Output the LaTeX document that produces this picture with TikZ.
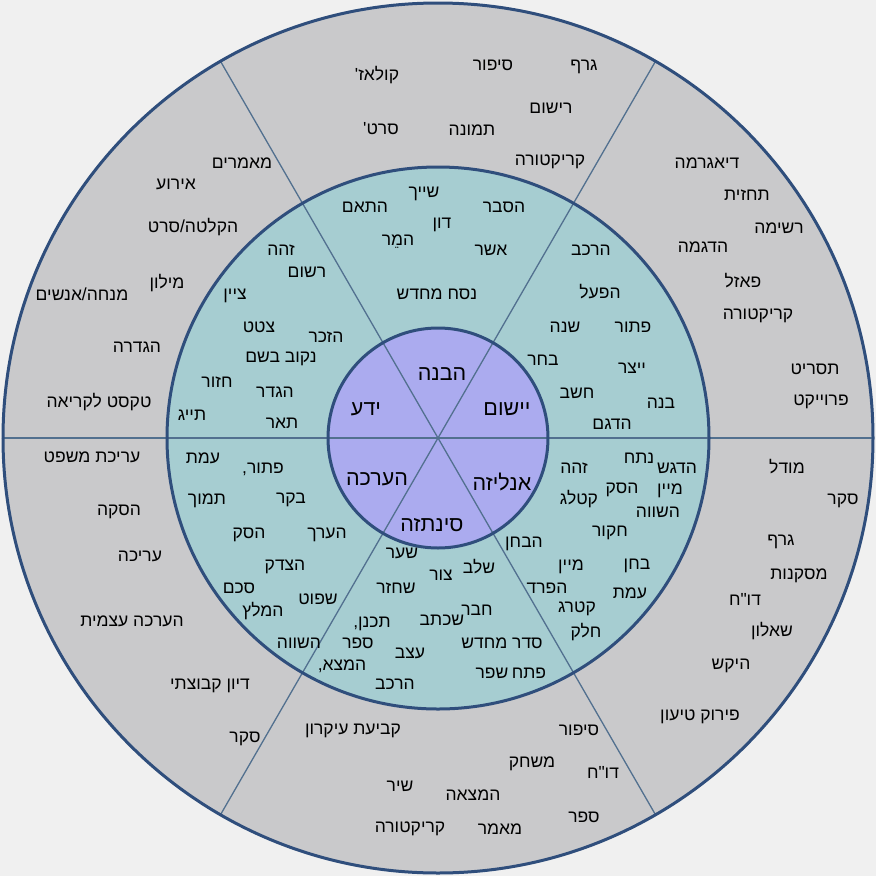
\documentclass[tikz,border=0pt]{standalone}
\usepackage{fontspec}
\newfontfamily\hebfont[Script=Hebrew]{Liberation Sans}
\TeXXeTstate=1
\definecolor{bgc}{HTML}{F0F0F0}
\definecolor{outerc}{HTML}{C9C9CB}
\definecolor{midc}{HTML}{A6CDD1}
\definecolor{innerc}{HTML}{ABABEF}
\definecolor{rimc}{HTML}{2F4E7C}
\definecolor{divc}{HTML}{52708F}
\begin{document}
\begin{tikzpicture}[x=1pt,y=-1pt,
  lbl/.style={font=\hebfont\fontsize{17.5}{20}\selectfont, inner sep=0pt,
    execute at begin node=\beginR, execute at end node=\endR},
  core/.style={lbl, font=\hebfont\fontsize{21.5}{24}\selectfont},
  rim/.style={draw=rimc, line width=3pt},
  divline/.style={draw=divc, line width=1.3pt}]
\useasboundingbox (0,0) rectangle (876,876);
\fill[bgc] (0,0) rectangle (876,876);
\coordinate (c) at (438,438);
\fill[outerc] (c) circle[radius=436pt];
\fill[midc] (c) circle[radius=271pt];
\fill[innerc] (c) circle[radius=110pt];
\foreach \a in {0,60,...,300} \draw[divline] (c) -- ++(\a:436pt);
\draw[rim] (c) circle[radius=435pt];
\draw[rim] (c) circle[radius=271pt];
\draw[rim] (c) circle[radius=110pt];

% core
\node[core] (k1) at (442,374) {הבנה};
\node[core] (k2) at (366,409) {ידע};
\node[core] (k3) at (507,409) {יישום};
\node[core] (k4) at (377,479) {הערכה};
\node[core] (k5) at (502,482) {אנליזה};
\node[core] (k6) at (432,525) {סינתזה};

% outer top
\node[lbl] (t1) at (584,67) {גרף};
\node[lbl] (t2) at (493,65) {סיפור};
\node[lbl] (t3) at (377,75) {קולאז'};
\node[lbl] (t4) at (551,108) {רישום};
\node[lbl] (t5) at (472,130) {תמונה};
\node[lbl] (t6) at (381,129) {סרט'};
\node[lbl] (t7) at (550,162) {קריקטורה};

% outer upper left
\node[lbl] (ul1) at (242,163) {מאמרים};
\node[lbl] (ul2) at (176,184) {אירוע};
\node[lbl] (ul3) at (193,227) {הקלטה/סרט};
\node[lbl] (ul4) at (167,283) {מילון};
\node[lbl] (ul5) at (82,294) {מנחה/אנשים};
\node[lbl] (ul6) at (137,347) {הגדרה};
\node[lbl] (ul7) at (99,402) {טקסט לקריאה};

% outer upper right
\node[lbl] (ur1) at (707,163) {דיאגרמה};
\node[lbl] (ur2) at (747,195) {תחזית};
\node[lbl] (ur3) at (779,228) {רשימה};
\node[lbl] (ur4) at (703,247) {הדגמה};
\node[lbl] (ur5) at (743,281) {פאזל};
\node[lbl] (ur6) at (758,316) {קריקטורה};
\node[lbl] (ur7) at (815,369) {תסריט};
\node[lbl] (ur8) at (821,402) {פרוייקט};

% outer lower left
\node[lbl] (ll1) at (92,457) {עריכת משפט};
\node[lbl] (ll2) at (119,512) {הסקה};
\node[lbl] (ll3) at (140,556) {עריכה};
\node[lbl] (ll4) at (132,621) {הערכה עצמית};
\node[lbl] (ll5) at (210,686) {דיון קבוצתי};
\node[lbl] (ll6) at (245,739) {סקר};

% outer lower right
\node[lbl] (lr1) at (787,467) {מודל};
\node[lbl] (lr2) at (843,501) {סקר};
\node[lbl] (lr3) at (781,542) {גרף};
\node[lbl] (lr4) at (799,576) {מסקנות};
\node[lbl] (lr5) at (745,599) {דו"ח};
\node[lbl] (lr6) at (772,631) {שאלון};
\node[lbl] (lr7) at (731,666) {היקש};
\node[lbl] (lr8) at (700,717) {פירוק טיעון};

% outer bottom
\node[lbl] (b1) at (579,730) {סיפור};
\node[lbl] (b2) at (353,731) {קביעת עיקרון};
\node[lbl] (b3) at (532,764) {משחק};
\node[lbl] (b4) at (603,772) {דו"ח};
\node[lbl] (b5) at (400,786) {שיר};
\node[lbl] (b6) at (473,795) {המצאה};
\node[lbl] (b7) at (584,817) {ספר};
\node[lbl] (b8) at (410,829) {קריקטורה};
\node[lbl] (b9) at (500,829) {מאמר};

% middle top
\node[lbl] (mt1) at (424,194) {שייך};
\node[lbl] (mt2) at (365,207) {התאם};
\node[lbl] (mt3) at (504,207) {הסבר};
\node[lbl] (mt4) at (442,225) {דון};
\node[lbl] (mt5) at (398,242) {המֵר};
\node[lbl] (mt6) at (491,250) {אשר};
\node[lbl] (mt7) at (437,294) {נסח מחדש};

% middle upper right
\node[lbl] (mr1) at (591,250) {הרכב};
\node[lbl] (mr2) at (600,292) {הפעל};
\node[lbl] (mr3) at (565,327) {שנה};
\node[lbl] (mr4) at (633,327) {פתור};
\node[lbl] (mr5) at (543,360) {בחר};
\node[lbl] (mr6) at (632,368) {ייצר};
\node[lbl] (mr7) at (577,393) {חשב};
\node[lbl] (mr8) at (661,403) {בנה};
\node[lbl] (mr9) at (612,424) {הדגם};

% middle upper left
\node[lbl] (ml1) at (281,250) {זהה};
\node[lbl] (ml2) at (307,272) {רשום};
\node[lbl] (ml3) at (235,296) {ציין};
\node[lbl] (ml4) at (259,327) {צטט};
\node[lbl] (ml5) at (326,337) {הזכר};
\node[lbl] (ml6) at (281,359) {נקוב בשם};
\node[lbl] (ml7) at (217,382) {חזור};
\node[lbl] (ml8) at (275,392) {הגדר};
\node[lbl] (ml9) at (192,415) {תייג};
\node[lbl] (ml10) at (282,423) {תאר};

% middle lower right
\node[lbl] (nr1) at (574,468) {זהה};
\node[lbl] (nr2) at (639,458) {נתח};
\node[lbl] (nr3) at (677,468) {הדגש};
\node[lbl] (nr4) at (670,491) {מיין};
\node[lbl] (nr5) at (622,490) {הסק};
\node[lbl] (nr6) at (579,499) {קטלג};
\node[lbl] (nr7) at (658,512) {השווה};
\node[lbl] (nr8) at (610,533) {חקור};
\node[lbl] (nr9) at (524,544) {הבחן};
\node[lbl] (nr10) at (571,567) {מיין};
\node[lbl] (nr11) at (637,566) {בחן};
\node[lbl] (nr12) at (547,588) {הפרד};
\node[lbl] (nr13) at (630,593) {עמת};
\node[lbl] (nr14) at (577,609) {קטרג};
\node[lbl] (nr15) at (586,632) {חלק};

% middle bottom
\node[lbl] (nb1) at (402,553) {שער};
\node[lbl] (nb2) at (479,567) {שלב};
\node[lbl] (nb3) at (441,575) {צור};
\node[lbl] (nb4) at (396,588) {שחזר};
\node[lbl] (nb5) at (477,610) {חבר};
\node[lbl] (nb6) at (442,620) {שכתב};
\node[lbl] (nb7) at (502,643) {סדר מחדש};
\node[lbl] (nb8) at (410,653) {עצב};
\node[lbl] (nb9) at (492,673) {שפר};
\node[lbl] (nb10) at (529,673) {פתח};
\node[lbl] (nb11) at (395,684) {הרכב};
\node[lbl] (nb12) at (372,624) {תכנן,};
\node[lbl] (nb13) at (358,643) {ספר};
\node[lbl] (nb14) at (342,666) {המצא,};

% middle lower left
\node[lbl] (nl1) at (203,458) {עמת};
\node[lbl] (nl2) at (263,469) {פתור,};
\node[lbl] (nl3) at (207,501) {תמוך};
\node[lbl] (nl4) at (291,500) {בקר};
\node[lbl] (nl5) at (249,535) {הסק};
\node[lbl] (nl6) at (327,535) {הערך};
\node[lbl] (nl7) at (285,567) {הצדק};
\node[lbl] (nl8) at (239,588) {סכם};
\node[lbl] (nl9) at (318,599) {שפוט};
\node[lbl] (nl10) at (263,611) {המלץ};
\node[lbl] (nl11) at (299,643) {השווה};
\end{tikzpicture}
\end{document}
